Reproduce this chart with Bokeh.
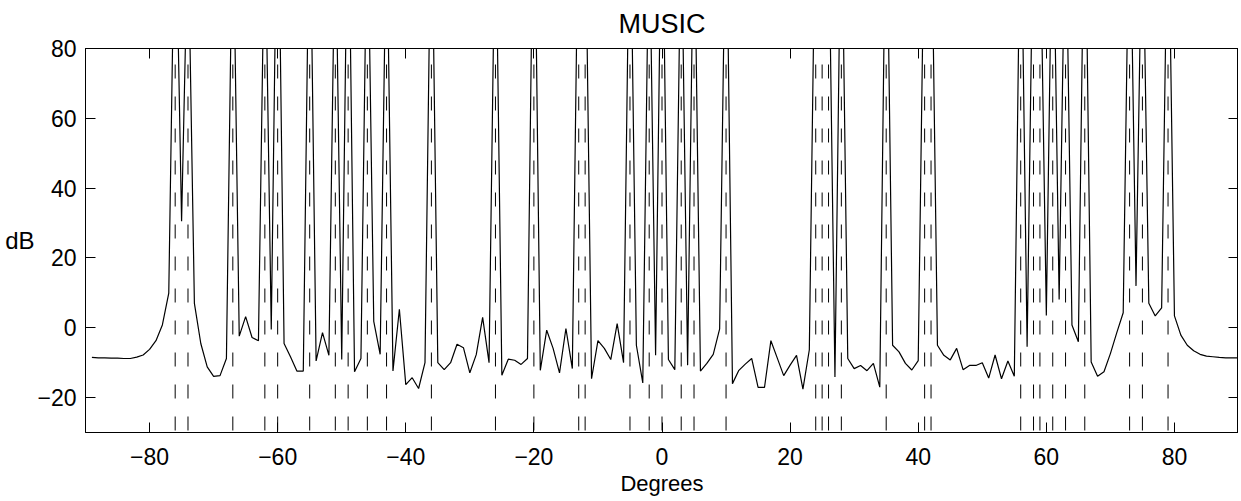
from bokeh.plotting import figure
from bokeh.models import LinearAxis, FixedTicker, Range1d
from bokeh.embed import file_html
from bokeh.resources import INLINE

# ---------------- data ----------------
angles_deg = list(range(-89, 91))
spectrum_db = [
    -8.5, -8.6, -8.6, -8.7, -8.7, -8.8, -8.8, -8.4, -7.8, -6.2,      # -89..-80
    -3.7, 0.8, 9.9, 130, 30.5, 115, 7.0, -4.5, -11.2, -13.9,         # -79..-70
    -13.7, -8.8, 125, -2.4, 3.2, -2.8, -3.7, 120, -0.5, 140,         # -69..-60
    -4.5, -8.3, -12.4, -12.4, 130, -9.5, -1.4, -7.9, 120, -9.1,      # -59..-50
    135, -12.6, -8.8, 125, 1.8, -7.6, 120, -12.4, 5.3, -16.3,        # -49..-40
    -14.3, -17.4, -10.0, 130, -10.0, -12.0, -10.0, -4.7, -5.7, -12.9,  # -39..-30
    -7.7, 3.0, -10.0, 125, -13.6, -9.0, -9.3, -10.5, -8.8, 140,      # -29..-20
    -12.2, -0.7, -5.9, -12.9, -0.2, -11.7, 130, 125, -14.6, -3.7,    # -19..-10
    -5.9, -9.1, 1.2, -10.0, 130, -5.0, -15.8, 120, -7.9, 135,        # -9..0
    -9.1, -12.0, 120, -10.7, 125, -12.4, -10.2, -7.6, -0.3, 130,     # 1..10
    -16.0, -12.2, -10.4, -8.8, -17.1, -17.1, -3.7, -8.7, -13.7, -10.7,  # 11..20
    -7.9, -17.6, -6.3, 130, 125, 120, -14.1, 130, -8.8, -11.7,       # 21..30
    -10.8, -12.3, -10.2, -17.0, 135, -5.0, -6.9, -10.2, -12.1, -9.4,  # 31..40
    125, 130, -5.0, -7.9, -9.2, -5.9, -12.0, -10.8, -10.8, -10.0,    # 41..50
    -14.4, -7.8, -14.6, -9.5, -13.9, 130, -5.4, 125, 120, 3.5,       # 51..60
    130, 8.1, 125, 0.8, -4.0, 135, -9.8, -13.9, -12.6, -7.4,         # 61..70
    -1.4, 4.3, 130, 12.0, 125, 7.0, 3.4, 5.7, 130, 3.4,              # 71..80
    -2.1, -5.0, -6.6, -7.6, -8.1, -8.3, -8.5, -8.6, -8.6, -8.6,      # 81..90
]
doa_deg = [-76, -74, -67, -62, -60, -55, -51, -49, -46, -43, -36, -26, -20,
           -13, -12, -5, -2, 0, 3, 5, 10, 24, 25, 26, 28, 35, 41, 42,
           56, 58, 59, 61, 63, 66, 73, 75, 79]

x_ticks = [-80, -60, -40, -20, 0, 20, 40, 60, 80]
x_tick_labels = ["\u221280", "\u221260", "\u221240", "\u221220", "0", "20", "40", "60", "80"]
y_ticks = [-20, 0, 20, 40, 60, 80]
y_tick_labels = ["\u221220", "0", "20", "40", "60", "80"]
x_limits = (-90, 90)
y_limits = (-30, 80)
title_text = "MUSIC"
x_label_text = "Degrees"
y_label_text = "dB"

FONT = "Liberation Sans"
TICK_FS = "23px"

p = figure(width=1238, height=500,
           x_range=Range1d(*x_limits), y_range=Range1d(*y_limits),
           output_backend="svg", toolbar_location=None,
           min_border_left=85, min_border_right=0,
           min_border_top=48, min_border_bottom=68,
           title=title_text)

bottom_axis = p.below[0]
left_axis = p.left[0]

p.title.align = "center"
p.title.vertical_align = "top"
p.title.text_font = FONT
p.title.text_font_size = "27px"
p.title.text_font_style = "normal"
p.title.text_color = "black"
p.title.standoff = 16

p.grid.grid_line_color = None
p.background_fill_color = "white"
p.border_fill_color = "white"
p.outline_line_color = "black"
p.outline_line_width = 1

top_axis = LinearAxis()
right_axis = LinearAxis()
p.add_layout(top_axis, "above")
p.add_layout(right_axis, "right")

def style_axis(ax, ticks, labels, show_labels):
    ax.ticker = FixedTicker(ticks=ticks)
    ax.minor_tick_line_color = None
    ax.major_tick_in = 10
    ax.major_tick_out = 0
    ax.major_tick_line_color = "black"
    ax.major_tick_line_width = 1
    ax.axis_line_color = "black"
    ax.major_label_text_font = FONT
    if show_labels:
        ax.major_label_overrides = {t: l for t, l in zip(ticks, labels)}
        ax.major_label_text_font_size = TICK_FS
        ax.major_label_text_color = "black"
    else:
        ax.major_label_text_font_size = "1px"
        ax.major_label_text_color = None
        ax.major_label_standoff = 0

style_axis(bottom_axis, x_ticks, x_tick_labels, True)
style_axis(left_axis, y_ticks, y_tick_labels, True)
style_axis(top_axis, x_ticks, x_tick_labels, False)
style_axis(right_axis, y_ticks, y_tick_labels, False)

for ax, txt, fs in ((bottom_axis, x_label_text, "22px"), (left_axis, y_label_text, "24px")):
    ax.axis_label = txt
    ax.axis_label_text_font = FONT
    ax.axis_label_text_font_size = fs
    ax.axis_label_text_font_style = "normal"
    ax.axis_label_text_color = "black"

bottom_axis.major_label_standoff = 15
bottom_axis.axis_label_standoff = 3

left_axis.major_label_standoff = 9
left_axis.axis_label_standoff = 0
if "axis_label_orientation" in left_axis.properties():
    left_axis.axis_label_orientation = "horizontal"
left_axis.axis_label_text_baseline = "alphabetic"

# source directions (dashed) and spectrum (solid)
p.segment(x0=doa_deg, y0=[y_limits[0]] * len(doa_deg),
          x1=doa_deg, y1=[y_limits[1]] * len(doa_deg),
          line_color="black", line_width=1, line_dash="14 18",
          line_dash_offset=30)
p.line(angles_deg, spectrum_db, line_color="black", line_width=1.2)

open("out.html", "w").write(file_html(p, INLINE))
